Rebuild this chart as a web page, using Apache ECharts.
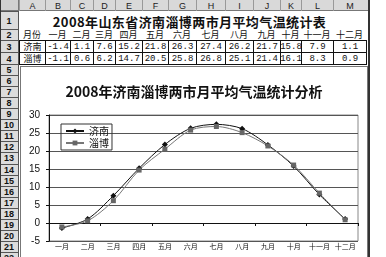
<!DOCTYPE html>
<html>
<head>
<meta charset="utf-8">
<script src="https://cdn.jsdelivr.net/npm/echarts/dist/echarts.min.js"></script>
<style>
  html, body { margin: 0; padding: 0; background: #fff; width: 386px; height: 257px; overflow: hidden; }
  #sheet { position: absolute; left: 0; top: 0; width: 386px; height: 257px; }
  .c { position: absolute; box-sizing: border-box; display: flex; align-items: center; justify-content: center;
       white-space: nowrap; color: #111; font-family: "Noto Sans CJK SC", sans-serif; }
  #chart { position: absolute; left: 20px; top: 66px; width: 348px; height: 200px;
           border: 1px solid #777; box-sizing: border-box; background: #fff; }
</style>
</head>
<body>
<div id="sheet"></div>
<div id="chart"></div>
<script>
// Worksheet content
const colLetters = ['A', 'B', 'C', 'D', 'E', 'F', 'G', 'H', 'I', 'J', 'K', 'L', 'M'];
const months = ['一月', '二月', '三月', '四月', '五月', '六月', '七月', '八月', '九月', '十月', '十一月', '十二月'];
const cityNames = ['济南', '淄博'];
const jinan = [-1.4, 1.1, 7.6, 15.2, 21.8, 26.3, 27.4, 26.2, 21.7, 15.8, 7.9, 1.1];
const zibo = [-1.1, 0.6, 6.2, 14.7, 20.5, 25.8, 26.8, 25.1, 21.4, 16.1, 8.3, 0.9];
const tableTitle = '2008年山东省济南淄博两市月平均气温统计表';
const monthHeader = '月份';
const chartTitle = '2008年济南淄博两市月平均气温统计分析';
const rowCount = 22;

// Sheet geometry
const colEdges = [19, 45, 70, 93, 115, 142, 168, 196, 225, 253, 280, 301, 333, 366];
const rowEdges = [0, 11, 29, 40, 52, 64];
for (let r = 6; r <= rowCount + 1; r++) rowEdges.push(64 + (r - 5) * 11.06);

const sheet = document.getElementById('sheet');
function cell(x, y, w, h, text, style) {
  const d = document.createElement('div');
  d.className = 'c';
  d.style.left = x + 'px'; d.style.top = y + 'px';
  d.style.width = w + 'px'; d.style.height = h + 'px';
  d.textContent = text;
  Object.assign(d.style, style || {});
  sheet.appendChild(d);
  return d;
}

// column header strip
cell(0, 0, 368, 11, '', { background: '#d9d9d9', borderBottom: '1px solid #777' });
colLetters.forEach((L, i) => {
  cell(colEdges[i], 0, colEdges[i + 1] - colEdges[i], 11, L,
       { fontFamily: 'Liberation Sans', fontSize: '9px', color: '#222', borderLeft: '1px solid #999' });
});
// row header strip
for (let r = 1; r <= rowCount; r++) {
  const y0 = rowEdges[r], y1 = rowEdges[r + 1];
  cell(0, y0, 19, y1 - y0, String(r), {
    background: '#dcdcdc', fontFamily: 'Liberation Sans', fontSize: '9px', fontWeight: 'bold', color: '#111',
    borderTop: '1px solid #555', borderRight: '1px solid #555'
  });
}
cell(0, 0, 19, 11, '', { background: '#d0d0d0', borderRight: '1px solid #777', borderBottom: '1px solid #777' });

// row 1: table title
cell(colEdges[0], rowEdges[1], colEdges[13] - colEdges[0] - 6, rowEdges[2] - rowEdges[1] + 2, tableTitle,
     { fontSize: '13px', fontWeight: 'bold', letterSpacing: '0.4px' });
// row 2: month headings
cell(colEdges[0], rowEdges[2], colEdges[1] - colEdges[0], rowEdges[3] - rowEdges[2], monthHeader, { fontSize: '9px' });
months.forEach((m, i) => {
  cell(colEdges[i + 1], rowEdges[2], colEdges[i + 2] - colEdges[i + 1], rowEdges[3] - rowEdges[2], m, { fontSize: '9px' });
});
// rows 3-4: bordered data
[jinan, zibo].forEach((vals, k) => {
  const y0 = rowEdges[3 + k], h = rowEdges[4 + k] - y0;
  const bd = { border: '1px solid #111' };
  cell(colEdges[0], y0, colEdges[1] - colEdges[0] + 1, h + 1, cityNames[k], Object.assign({ fontSize: '9px' }, bd));
  vals.forEach((v, i) => {
    cell(colEdges[i + 1], y0, colEdges[i + 2] - colEdges[i + 1] + 1, h + 1, v.toFixed(1),
         Object.assign({ fontSize: '9px', fontFamily: 'Liberation Mono' }, bd));
  });
});
// sheet edges
cell(0, 0, 1, 257, '', { background: '#333' });
cell(368, 0, 2, 257, '', { background: '#333' });

// Chart
const chart = echarts.init(document.getElementById('chart'), null, { renderer: 'canvas' });
const option = {
  animation: false,
  backgroundColor: '#fff',
  title: {
    text: chartTitle, left: 'center', top: 13,
    textStyle: { fontFamily: 'Noto Sans CJK SC', fontSize: 14, fontWeight: 'bold', color: '#111' }
  },
  legend: {
    data: cityNames, orient: 'vertical', left: 40, top: 57,
    itemGap: 2, itemWidth: 18, itemHeight: 6,
    borderColor: '#333', borderWidth: 1, padding: [2, 3, 2, 4],
    textStyle: { fontFamily: 'Noto Sans CJK SC', fontSize: 10, color: '#111' }
  },
  grid: { left: 28, right: 9, top: 48, height: 126, show: true, borderColor: '#888', borderWidth: 1 },
  xAxis: [
    {
      type: 'category', data: months,
      axisLine: { onZero: true, lineStyle: { color: '#111', width: 1.2 } },
      axisTick: { show: true, length: 3, lineStyle: { color: '#111' } },
      axisLabel: { show: false }, splitLine: { show: false }
    },
    {
      type: 'category', data: months, position: 'bottom',
      axisLine: { show: false, onZero: false }, axisTick: { show: false },
      axisLabel: { interval: 0, fontFamily: 'Noto Sans CJK SC', fontSize: 7, margin: 2, color: '#111' }
    }
  ],
  yAxis: {
    type: 'value', min: -5, max: 30, interval: 5,
    axisLine: { show: true, lineStyle: { color: '#111' } },
    axisTick: { show: true, length: 3, lineStyle: { color: '#111' } },
    axisLabel: { fontFamily: 'Liberation Sans', fontSize: 10, margin: 9, color: '#111' },
    splitLine: { lineStyle: { color: '#555', width: 1 } }
  },
  series: [
    {
      name: cityNames[0], type: 'line', data: jinan, smooth: 0.3,
      symbol: 'diamond', symbolSize: 6,
      lineStyle: { color: '#111', width: 1 }, itemStyle: { color: '#111' }
    },
    {
      name: cityNames[1], type: 'line', data: zibo, smooth: 0.3,
      symbol: 'rect', symbolSize: 5,
      lineStyle: { color: '#777', width: 1 }, itemStyle: { color: '#666' }
    }
  ]
};
chart.setOption(option);
</script>
</body>
</html>
